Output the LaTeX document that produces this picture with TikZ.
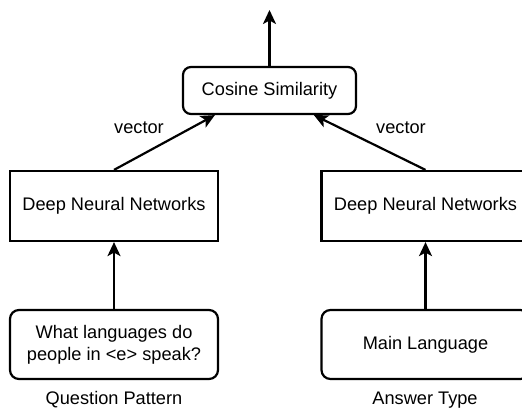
\documentclass[tikz,border=0pt]{standalone}
\usepackage{fontspec}
\setmainfont{Liberation Sans}
\usetikzlibrary{arrows.meta}
\begin{document}
\begin{tikzpicture}[x=1pt,y=-1pt,
  every node/.style={font=\fontsize{18.2}{22}\selectfont, inner sep=0pt},
  box/.style={draw, line width=2.2pt, minimum width=208pt, minimum height=70pt, align=center},
  rbox/.style={box, rounded corners=9pt, minimum height=69pt},
  simbox/.style={draw, line width=2.2pt, rounded corners=8pt, minimum width=173pt, minimum height=47pt},
  link/.style={line width=2.2pt, -{Stealth[length=14pt,width=13pt,inset=3.5pt]}}
]
\useasboundingbox (0,0) rectangle (522,411);

% similarity block and its output
\node[simbox] (cos) at (269.5,90.5) {Cosine Similarity};
\coordinate (out) at (269.5,10);
\draw[link] (cos.north) -- (out);

% the two encoder networks
\node[box] (dnnL) at (114,206) {Deep Neural Networks};
\node[box] (dnnR) at (425.5,206) {Deep Neural Networks};

% inputs
\node[rbox] (inL) at (114,344.5) {What languages do\\people in <e> speak?};
\node[rbox] (inR) at (425.5,344.5) {Main Language};

\node (capL) at (114,400) {Question Pattern};
\node (capR) at (425,400) {Answer Type};

% connectors
\draw[link] (inL.north) -- (dnnL.south);
\draw[link] (inR.north) -- (dnnR.south);

\coordinate (cosInL) at ([xshift=33pt]cos.south west);
\coordinate (cosInR) at ([xshift=132pt]cos.south west);
\draw[link] (dnnL.north) -- (cosInL);
\draw[link] (dnnR.north) -- (cosInR);

\node at (139,128) {vector};
\node at (401,128) {vector};
\end{tikzpicture}
\end{document}
